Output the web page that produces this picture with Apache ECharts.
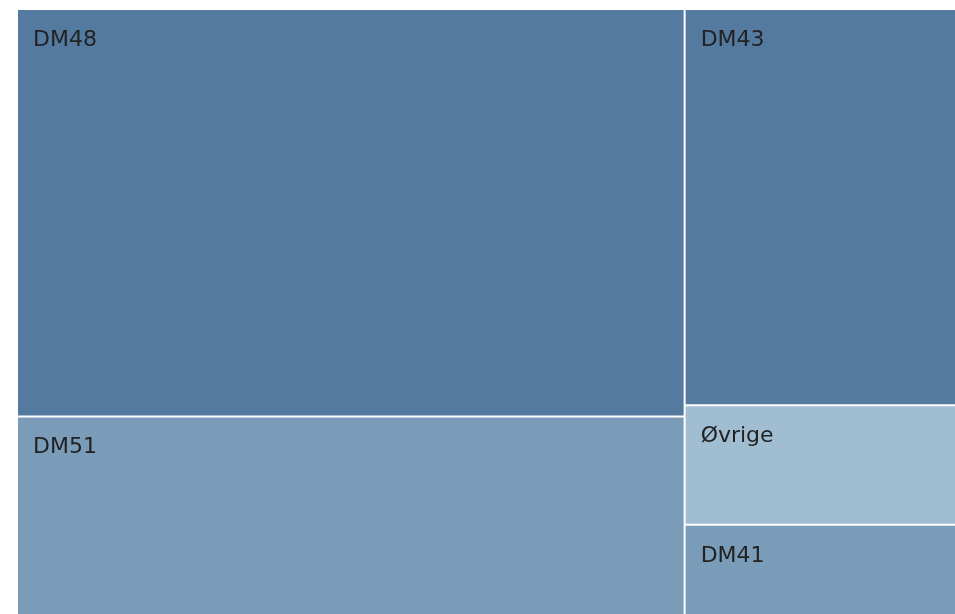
<!DOCTYPE html>
<html>
<head>
<meta charset="utf-8">
<script src="https://cdn.jsdelivr.net/npm/echarts@6/dist/echarts.min.js"></script>
<style>
  html, body { margin: 0; padding: 0; background: #fff; }
  #chart { width: 955px; height: 614px; }
</style>
</head>
<body>
<div id="chart"></div>
<script>
const names = ["DM48", "DM51", "DM43", "Øvrige", "DM41"];
const values = [47.8, 23.3, 18.9, 5.7, 4.3];

const colorByName = {
  DM48: "#547aa0",
  DM43: "#547aa0",
  DM51: "#7a9cb8",
  DM41: "#7a9cb8",
  "Øvrige": "#a0bdd2"
};

const chart = echarts.init(document.getElementById("chart"));

const chartOptions = {
  backgroundColor: "#fff",
  series: [
    {
      type: "treemap",
      left: 18,
      top: 10,
      right: 0,
      bottom: 0,
      roam: false,
      nodeClick: false,
      breadcrumb: { show: false },
      animation: false,
      itemStyle: {
        gapWidth: 2,
        borderWidth: 0,
        borderColor: "#fff"
      },
      label: {
        show: true,
        position: [10, 14],
        fontFamily: "DejaVu Sans",
        fontSize: 22,
        color: "#222"
      },
      upperLabel: { show: false },
      data: names.map((n, i) => ({
        name: n,
        value: values[i],
        itemStyle: { color: colorByName[n] }
      }))
    }
  ]
};

chart.setOption(chartOptions);
</script>
</body>
</html>
